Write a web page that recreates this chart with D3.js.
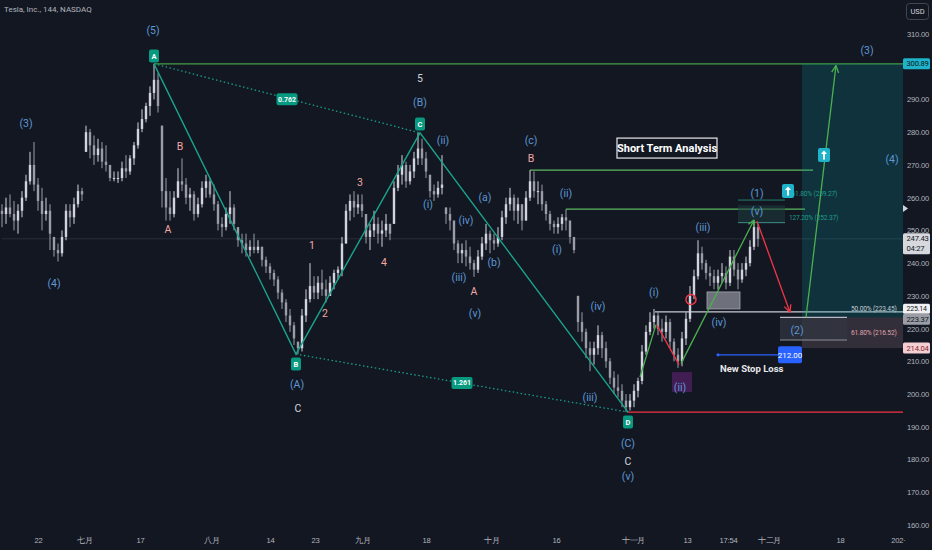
<!DOCTYPE html>
<html>
<head>
<meta charset="utf-8">
<script src="https://cdn.jsdelivr.net/npm/d3@7"></script>
<style>
  html, body { margin: 0; padding: 0; background: #131722; }
  svg { display: block; font-family: Roboto, "Noto Sans", sans-serif; }
  .axis text { fill: #b2b5be; font-size: 7.6px; letter-spacing: -0.2px; }
  .axis path, .axis line { display: none; }
</style>
</head>
<body>
<script>
var width = 932, height = 550;

// price bars, 144 min (high, low, close); open = previous close
var highs = [258,260,261,259,258,262,267,274,277,266,263,260,258,248,246,250,258,258,260,264,
  263,282,281,279,278,277,276,270,268,268,271,273,273,277,283,287,289,294,300.9,298,
  282,266,262,262,269,272,266,263,262,260,265,267,266,264,259,254,257,262,258,251,
  249,249,247,249,247,245,242,240,238,236,232,229,226,222,216,226,232,240,236,236,
  238,235,236,238,239,248,258,261,262,261,261,255,252,256,254,253,255,252,265,270,
  273,271,270,274,279.8,278,274,267,264,265,273,257,257,253,247,246,247,245,241,244,
  248,252,250,249,251,256,260,263,261,260,258,262,268.4,268,265,264,259,256,253,254,
  255,256.5,253,248,230,225,220,216,216,221,219,216,211,207,206,203,200,200,203,205,
  215,221,225,226,225,223,224,223,217,214,219,225,233,238,247,245,241,239,238,238,
  240,239,244,244,240,240,242,247,253.2,252];
var lows = [251,252,254,250,249,254,259,264,262,256,250,253,244,242,240.5,242,247,251,252,257,
  259,274,272,270,271,269,268,265,265,264.5,265,266,267,270,275,280,283,285,290,286,
  257,253,253,254,260,262,258,256,253,254,257,260,260,256,250,248,250,252,250,245,
  243,242,242,243,243,239,237,235,233,229,226,222,219,215,212.2,213,222,228,229,229,
  230,228,230,232,235,236,246,253,254,255,254,246,244,248,246,245,248,247,252,262,
  264,263,264,266,270,270,266,260,259,260,261,252,250,244,240,240,239,238,235.8,237,
  241,244,243,244,245,247,252,256,253,252,250,253,259,260,258,256,253,250,249,249,
  250,250,246,243,219,216,211,207,209,212,211,208,203,200,199,196,194.5,195,196,199,
  203,212,218,220,218,216,217,214,210,208,208.5,215,222,229,235,238,235,233,232,232,
  234,232,233,236,232,234,236,239,244,245];
var closes = [255,257,255,253,256,260,265,270,264,259,255,256,249,244,243,248,256,254,258,262,
  261,280,276,273,275,271,270,266,266,266,269,268,272,276,281,284,288,292,296,288,
  262,257,255,260,265,264,260,261,255,258,263,265,261,258,252,251,255,257,252,247,
  246,244,245,244,245,241,239,237,235,231,228,224,221,217,214,224,229,233,231,234,
  232,230,234,237,238,246,256,259,257,258,256,248,250,252,249,250,252,249,263,267,
  270,265,268,272,275,272,268,262,261,263,264,255,253,246,243,244,242,240,238,242,
  246,249,247,246,248,254,258,260,256,258,253,260,265,262,262,258,255,252,251,252,
  254,253,248,244,222,219,214,212,214,218,214,210,205,202,201,198,196,198,201,204,
  213,219,222,224,220,219,222,216,212,210,217,223,230,236,243,240,237,236,234,236,
  237,234,242,238,235,238,240,245,251,247.43];
var firstOpen = 256;

var priceTicks = [310,300,290,280,270,260,250,240,230,220,210,200,190,180,170,160];
var timeTickSlots = [9,20.5,34.5,52.25,67,78.25,90,106,122.25,138.5,157.75,171.25,181.5,191.75,209.5,224];
var timeTickLabels = ["22","七月","17","八月","14","23","九月","18","十月","16","十一月","13","17:54","十二月","18","202·"];

// wave pivots A-B-C-D (bar slot, price)
var pivots = [
  { name: "A", slot: 38, price: 300.89, boxSlot: 38, boxPrice: 303.3 },
  { name: "B", slot: 73.5, price: 212.2, boxSlot: 73.5, boxPrice: 209.2 },
  { name: "C", slot: 104.5, price: 279.8, boxSlot: 104.5, boxPrice: 282.5 },
  { name: "D", slot: 156.5, price: 194.5, boxSlot: 156.5, boxPrice: 191.5 }
];
var ratios = [
  { text: "0.762", from: 0, to: 2, slot: 71.25, price: 290.1 },
  { text: "1.261", from: 1, to: 3, slot: 115, price: 203.4 }
];

var blue = "#5d97d6", pink = "#f2a7a4", light = "#d1d4dc";
var waveLabels = [
  ["(5)",37.75,311.2,blue],["(3)",6,282.8,blue],["(4)",13,233.9,blue],["(B)",104.5,289.2,blue],
  ["(A)",73.75,203.1,blue],["(i)",106.5,258.1,blue],["(ii)",110.25,277.6,blue],["(iii)",114.25,235.8,blue],
  ["(iv)",116,253.2,blue],["(v)",118.25,224.8,blue],["(a)",120.75,260.2,blue],["(b)",123,240.3,blue],
  ["(c)",132.25,277.6,blue],["(ii)",141,261.4,blue],["(i)",138.75,244.3,blue],["(iv)",149,226.9,blue],
  ["(iii)",147,199.1,blue],["(i)",163,231.2,blue],["(ii)",169.5,202.2,blue],["(iii)",175.25,251,blue],
  ["(iv)",179.25,222,blue],["(v)",188.75,255.9,blue],["(1)",188.75,261.4,blue],["(C)",156.5,185.1,blue],
  ["(v)",156.5,175,blue],["(2)",198.75,219.6,blue],["(3)",216.25,305.1,blue],["(4)",222.5,271.8,blue],
  ["B",44.5,275.8,pink],["A",41.5,250.4,pink],["1",77.5,245.5,pink],["2",80.75,224.8,pink],
  ["3",89.5,264.8,pink],["4",95.5,240.3,pink],["A",118,231.5,pink],["B",132.25,272.1,pink],
  ["5",104.5,296.6,light],["C",74,195.7,light],["C",156.5,179.6,light]
];

// horizontal levels: price, from slot, to slot, colour
var levels = [
  [300.89, 38, 224, "#43a047"],
  [268.4, 132, 201.5, "#5cb860"],
  [256.5, 141, 199.5, "#5cb860"],
  [225.14, 163.25, 224, "#c9ccd4"],
  [194.5, 156.5, 224, "#f23645"],
  [247.43, 0, 224, "#2a2e39"]
];

var lastPrice = 247.43, lastTime = "04:27";
var target = 300.89, entry = 223.45, fib618 = 216.52, stop = 214.04, newStop = 212.00;
var ext1618 = 259.27, ext1272 = 252.37, zoneTop = 225.14, zoneMid = 223.37;

var x = d3.scaleLinear().domain([0, 224]).range([2, 898]);
var y = d3.scaleLinear().domain([160, 310]).range([525, 34]);

var svg = d3.select("body").append("svg")
  .attr("width", width)
  .attr("height", height);

svg.append("rect").attr("width", width).attr("height", height).attr("fill", "#131722");

svg.append("clipPath").attr("id", "plot")
  .append("rect").attr("x", 0).attr("y", 0).attr("width", 903).attr("height", 530);

var g = svg.append("g").attr("clip-path", "url(#plot)");

// levels
g.selectAll("line.level")
  .data(levels)
  .enter().append("line")
  .attr("class", "level")
  .attr("x1", function(d) { return x(d[1]); })
  .attr("x2", function(d) { return x(d[2]) + 5; })
  .attr("y1", function(d) { return y(d[0]); })
  .attr("y2", function(d) { return y(d[0]); })
  .attr("stroke", function(d) { return d[3]; })
  .attr("stroke-width", function(d) { return d[0] === lastPrice ? 1 : 1.3; });

// long position boxes
g.append("rect")
  .attr("x", x(200)).attr("width", x(225.25) - x(200))
  .attr("y", y(target)).attr("height", y(entry) - y(target))
  .attr("fill", "rgba(0,160,165,0.2)");
g.append("rect")
  .attr("x", x(200)).attr("width", x(225.25) - x(200))
  .attr("y", y(entry)).attr("height", y(stop) - y(entry))
  .attr("fill", "rgba(200,160,170,0.18)");

// (2) retracement box
g.append("rect")
  .attr("x", x(194.5)).attr("width", x(211.25) - x(194.5))
  .attr("y", y(entry)).attr("height", y(fib618) - y(entry))
  .attr("fill", "rgba(50,54,66,0.75)");
[entry, fib618].forEach(function(p, i) {
  g.append("line")
    .attr("x1", x(194.5)).attr("x2", x(211.25))
    .attr("y1", y(p)).attr("y2", y(p))
    .attr("stroke", i ? "#8e8d96" : "#b8bac2").attr("stroke-width", 1.2);
});

// (v) extension box
g.append("rect")
  .attr("x", x(184)).attr("width", x(195.75) - x(184))
  .attr("y", y(257.7)).attr("height", y(ext1272) - y(257.7))
  .attr("fill", "rgba(30,60,62,0.55)");
g.append("line").attr("x1", x(184)).attr("x2", x(195.75))
  .attr("y1", y(ext1618)).attr("y2", y(ext1618)).attr("stroke", "#1f7c70").attr("stroke-width", 1);
g.append("line").attr("x1", x(184)).attr("x2", x(195.75))
  .attr("y1", y(ext1272)).attr("y2", y(ext1272)).attr("stroke", "#3b8f85").attr("stroke-width", 1);

// purple and grey zones
g.append("rect")
  .attr("x", x(167.5)).attr("width", x(172.5) - x(167.5))
  .attr("y", y(206.7)).attr("height", y(200.6) - y(206.7))
  .attr("fill", "rgba(156,39,176,0.35)");
g.append("rect")
  .attr("x", x(176.25)).attr("width", x(184.5) - x(176.25))
  .attr("y", y(231.2)).attr("height", y(226) - y(231.2))
  .attr("fill", "#8d9099").attr("fill-opacity", 0.75)
  .attr("stroke", "#a3a6af").attr("stroke-width", 0.8);

// candles
var bars = highs.map(function(h, i) {
  var l = lows[i], c = closes[i];
  var o = i === 0 ? firstOpen : closes[i - 1];
  o = Math.max(l, Math.min(h, o));
  return { i: i, o: o, h: h, l: l, c: c };
});

g.selectAll("rect.wick")
  .data(bars)
  .enter().append("rect")
  .attr("class", "wick")
  .attr("x", function(d) { return x(d.i) - 0.5; })
  .attr("width", 1)
  .attr("y", function(d) { return y(d.h); })
  .attr("height", function(d) { return y(d.l) - y(d.h); })
  .attr("fill", function(d) { return d.c >= d.o ? "#d1d4dc" : "#9a9da6"; });

g.selectAll("rect.body")
  .data(bars)
  .enter().append("rect")
  .attr("class", "body")
  .attr("x", function(d) { return x(d.i) - 1.2; })
  .attr("width", 2.4)
  .attr("y", function(d) { return y(Math.max(d.o, d.c)); })
  .attr("height", function(d) { return Math.max(1, Math.abs(y(d.o) - y(d.c))); })
  .attr("fill", function(d) { return d.c >= d.o ? "#d1d4dc" : "#9a9da6"; });

// dotted ratio lines
g.selectAll("line.ratio")
  .data(ratios)
  .enter().append("line")
  .attr("class", "ratio")
  .attr("x1", function(d) { return x(pivots[d.from].slot); })
  .attr("y1", function(d) { return y(pivots[d.from].price); })
  .attr("x2", function(d) { return x(pivots[d.to].slot); })
  .attr("y2", function(d) { return y(pivots[d.to].price); })
  .attr("stroke", "#17a08b")
  .attr("stroke-width", 1.3)
  .attr("stroke-dasharray", "1.5,2.5");

// ABCD solid path
g.append("path")
  .attr("d", d3.line()
    .x(function(d) { return x(d.slot); })
    .y(function(d) { return y(d.price); })(pivots))
  .attr("fill", "none")
  .attr("stroke", "#1aa38e")
  .attr("stroke-width", 1.4);

function arrow(x1, y1, x2, y2, color, head) {
  var a = Math.atan2(y2 - y1, x2 - x1);
  g.append("line").attr("x1", x1).attr("y1", y1).attr("x2", x2).attr("y2", y2)
    .attr("stroke", color).attr("stroke-width", 1.3);
  if (head) {
    [-0.45, 0.45].forEach(function(da) {
      g.append("line")
        .attr("x1", x2).attr("y1", y2)
        .attr("x2", x2 - head * Math.cos(a + da))
        .attr("y2", y2 - head * Math.sin(a + da))
        .attr("stroke", color).attr("stroke-width", 1.3);
    });
  }
}

arrow(x(159.5), y(205.2), x(163.5), y(221.2), "#4caf50", 0);
arrow(x(163.75), y(221), x(169.25), y(209), "#f23645", 0);
arrow(x(169.75), y(209.3), x(188), y(253.2), "#4caf50", 7);
arrow(x(188.75), y(252.8), x(197), y(225), "#f23645", 8);
arrow(x(201), y(entry), x(208.5), y(300.4), "#4caf50", 8);

// red circle
g.append("circle")
  .attr("cx", x(172.25)).attr("cy", y(228.9)).attr("r", 5)
  .attr("fill", "none").attr("stroke", "#f23645").attr("stroke-width", 1.5);

// pivot markers
var pm = g.selectAll("g.pivot")
  .data(pivots)
  .enter().append("g")
  .attr("class", "pivot")
  .attr("transform", function(d) { return "translate(" + x(d.boxSlot) + "," + y(d.boxPrice) + ")"; });
pm.append("rect").attr("x", -5).attr("y", -6.5).attr("width", 10).attr("height", 13).attr("rx", 2)
  .attr("fill", "#089981");
pm.append("text").text(function(d) { return d.name; })
  .attr("text-anchor", "middle").attr("dy", "0.35em")
  .attr("font-size", 7.5).attr("font-weight", "bold").attr("fill", "#ffffff");

var rm = g.selectAll("g.ratiobox")
  .data(ratios)
  .enter().append("g")
  .attr("class", "ratiobox")
  .attr("transform", function(d) { return "translate(" + x(d.slot) + "," + y(d.price) + ")"; });
rm.append("rect").attr("x", -10.5).attr("y", -6).attr("width", 21).attr("height", 12).attr("rx", 2)
  .attr("fill", "#089981");
rm.append("text").text(function(d) { return d.text; })
  .attr("text-anchor", "middle").attr("dy", "0.35em")
  .attr("font-size", 7).attr("font-weight", "bold").attr("fill", "#ffffff");

// wave labels
g.selectAll("text.wave")
  .data(waveLabels)
  .enter().append("text")
  .attr("class", "wave")
  .attr("x", function(d) { return x(d[1]); })
  .attr("y", function(d) { return y(d[2]); })
  .attr("dy", "0.35em")
  .attr("text-anchor", "middle")
  .attr("font-size", 10.5)
  .attr("fill", function(d) { return d[3]; })
  .text(function(d) { return d[0]; });

// fib texts
function label(t, sx, p, color, size, weight, spacing) {
  return g.append("text").attr("x", x(sx)).attr("y", y(p)).attr("dy", "0.35em")
    .attr("font-size", size).attr("font-weight", weight || "normal")
    .attr("letter-spacing", spacing || 0)
    .attr("fill", color).text(t);
}
label("161.80% (259.27)", 196.5, 261.3, "#1f9c89", 6.6, "normal", -0.15);
label("127.20% (252.37)", 196.75, 253.9, "#1f9c89", 6.6, "normal", -0.15);
label("50.00% (223.45)", 212.25, 226.2, "#c9ccd4", 6.6, "normal", -0.15);
label("61.80% (216.52)", 212.25, 218.9, "#e0a5ad", 6.6, "normal", -0.15);

// up-arrow badges
[[196.5, 262], [205.5, 273]].forEach(function(b) {
  var bg = g.append("g").attr("transform", "translate(" + x(b[0]) + "," + y(b[1]) + ")");
  bg.append("rect").attr("x", -6).attr("y", -7).attr("width", 12).attr("height", 14).attr("rx", 2)
    .attr("fill", "#1fb3c9");
  bg.append("path").attr("d", "M0,-4.5 L3,-1 L1,-1 L1,4.5 L-1,4.5 L-1,-1 L-3,-1 Z").attr("fill", "#ffffff");
});

// Short Term Analysis box
g.append("rect")
  .attr("x", x(153.75)).attr("width", x(178.75) - x(153.75))
  .attr("y", y(278.2)).attr("height", y(272.1) - y(278.2))
  .attr("fill", "#131722").attr("stroke", "#e8e8ea").attr("stroke-width", 1.2);
g.append("text")
  .attr("x", x(166.25)).attr("y", y(275.15)).attr("dy", "0.36em")
  .attr("text-anchor", "middle").attr("font-size", 11).attr("font-weight", "bold")
  .attr("fill", "#ffffff").text("Short Term Analysis");

// new stop loss
g.append("line").attr("x1", x(179)).attr("x2", x(194))
  .attr("y1", y(newStop)).attr("y2", y(newStop)).attr("stroke", "#2962ff").attr("stroke-width", 1.2);
g.append("circle").attr("cx", x(179)).attr("cy", y(newStop)).attr("r", 1.6).attr("fill", "#2962ff");
g.append("rect").attr("x", x(194)).attr("width", x(200) - x(194))
  .attr("y", y(newStop) - 8.5).attr("height", 17).attr("rx", 2).attr("fill", "#2962ff");
g.append("text").attr("x", x(197)).attr("y", y(newStop)).attr("dy", "0.35em")
  .attr("text-anchor", "middle").attr("font-size", 8).attr("fill", "#ffffff").text(newStop.toFixed(2));
label("New Stop Loss", 179.5, 207.9, "#e6e7ea", 9.5, "bold");

// price axis (labels hidden under tags are dropped)
var tagPrices = [target, lastPrice, zoneTop, zoneMid, stop];
var ax = svg.append("g").attr("class", "axis").attr("transform", "translate(904,0)")
  .call(d3.axisRight(y).tickValues(priceTicks.filter(function(p) {
      return tagPrices.every(function(t) { return Math.abs(y(t) - y(p)) > 8; });
    })).tickSize(0).tickFormat(d3.format(".2f")));
ax.selectAll("text").attr("x", 3).attr("text-anchor", "start");

function priceTag(p, text, fill, color, hgt) {
  var h = hgt || 11;
  svg.append("rect").attr("x", 903).attr("y", y(p) - 5.5).attr("width", 27).attr("height", h)
    .attr("rx", 1.5).attr("fill", fill);
  svg.append("text").attr("x", 906.5).attr("y", y(p)).attr("dy", "0.35em")
    .attr("font-size", 7.6).attr("letter-spacing", -0.2).attr("fill", color).text(text);
}
priceTag(target, target.toFixed(2), "#1fb3c9", "#0d1a20");
priceTag(lastPrice, lastPrice.toFixed(2), "#d6d8de", "#131722", 21);
svg.append("text").attr("x", 906.5).attr("y", y(lastPrice) + 10).attr("dy", "0.35em")
  .attr("font-size", 7.6).attr("letter-spacing", -0.2).attr("fill", "#131722").text(lastTime);
// the two tags near 224 sit edge to edge
svg.append("rect").attr("x", 903).attr("y", y(zoneTop) - 8).attr("width", 27).attr("height", 10)
  .attr("rx", 1.5).attr("fill", "#f0f0f2");
svg.append("text").attr("x", 906.5).attr("y", y(zoneTop) - 3).attr("dy", "0.35em")
  .attr("font-size", 7).attr("letter-spacing", -0.2).attr("fill", "#131722").text(zoneTop.toFixed(2));
svg.append("rect").attr("x", 903).attr("y", y(zoneTop) + 2).attr("width", 27).attr("height", 11)
  .attr("rx", 1.5).attr("fill", "#9a9da6");
svg.append("text").attr("x", 906.5).attr("y", y(zoneTop) + 7.5).attr("dy", "0.35em")
  .attr("font-size", 7.6).attr("letter-spacing", -0.2).attr("fill", "#131722").text(zoneMid.toFixed(2));
priceTag(stop, stop.toFixed(2), "#f3cfd3", "#8a1f2c");

svg.append("path").attr("d", "M903,205 L908,208.5 L903,212 Z").attr("fill", "#d1d4dc");

// time axis
var tx = svg.append("g").attr("class", "axis").attr("transform", "translate(0,535)")
  .call(d3.axisBottom(x).tickValues(timeTickSlots).tickSize(0)
    .tickFormat(function(d, i) { return timeTickLabels[i]; }));

// header
svg.append("text").attr("x", 4).attr("y", 12).attr("font-size", 8)
  .attr("fill", "#b2b5be").text("Tesla, Inc., 144, NASDAQ");
svg.append("rect").attr("x", 906.5).attr("y", 3.5).attr("width", 22).attr("height", 16).attr("rx", 3)
  .attr("fill", "none").attr("stroke", "#434651");
svg.append("text").attr("x", 917.5).attr("y", 11.5).attr("dy", "0.35em").attr("text-anchor", "middle")
  .attr("font-size", 7.5).attr("fill", "#d1d4dc").text("USD");
</script>
</body>
</html>
